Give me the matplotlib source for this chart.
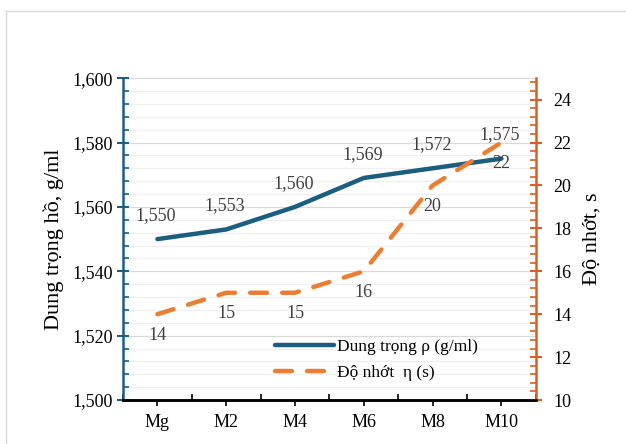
import numpy as np
import matplotlib.pyplot as plt
from matplotlib.ticker import MultipleLocator, FixedLocator

# data
categories = ["Mg", "M2", "M4", "M6", "M8", "M10"]
density = [1550, 1553, 1560, 1569, 1572, 1575]       # g/ml (x1000 shown with comma)
viscosity = [14, 15, 15, 16, 20, 22]                 # s

blue = "#1B5E80"
orange = "#ED7D31"
axis_orange = "#D9601F"

plt.rcParams['font.family'] = ['Liberation Serif', 'DejaVu Serif']

fig = plt.figure(figsize=(6.26, 4.44), dpi=100)
ax = fig.add_axes([0.1965, 0.099, 0.6595, 0.725])
ax2 = ax.twinx()

x = np.arange(len(categories))

# outer frame of the chart (left and top visible)
fig.add_artist(plt.Line2D([6/626, 6/626], [0, 1 - 11/444], transform=fig.transFigure, color="#D9D9D9", lw=1))
fig.add_artist(plt.Line2D([6/626, 1], [1 - 11/444, 1 - 11/444], transform=fig.transFigure, color="#D9D9D9", lw=1))

ln1, = ax.plot(x, density, color=blue, lw=3.2, solid_capstyle='round', zorder=3)
ln2, = ax2.plot(x, viscosity, color=orange, lw=3.2, dashes=(3.8, 3.4), dash_capstyle='round', zorder=3)

ax.set_xlim(-0.5, len(categories) - 0.5)
ax.set_ylim(1500, 1600)
ax2.set_ylim(10, 25)

# left axis ticks / grid
ax.yaxis.set_major_locator(MultipleLocator(20))
ax.yaxis.set_minor_locator(MultipleLocator(4))
ax.set_yticks(np.arange(1500, 1601, 20))
ax.set_yticklabels([f"{int(v):,}" for v in np.arange(1500, 1601, 20)])
ax.grid(which='major', axis='y', color="#D9D9D9", lw=0.9)
ax.grid(which='minor', axis='y', color="#EFEFEF", lw=0.9)
ax.set_axisbelow(True)

# right axis ticks
ax2.yaxis.set_major_locator(FixedLocator([10, 12, 14, 16, 18, 20, 22, 24]))
ax2.yaxis.set_minor_locator(MultipleLocator(0.4))

# x axis: labels at centres, ticks at boundaries
ax.set_xticks(x)
ax.set_xticklabels(categories)
ax.xaxis.set_minor_locator(FixedLocator(np.arange(-0.5, len(categories), 1.0)))
ax.tick_params(axis='x', which='major', direction='out', length=4, width=1.2, color='black', labelsize=13, pad=6)
ax.tick_params(axis='x', which='minor', direction='in', length=4, width=1.2, color='black')

ax.tick_params(axis='y', which='major', direction='inout', length=9, width=1.5, color=blue, labelsize=13, pad=3)
ax.tick_params(axis='y', which='minor', direction='in', length=4, width=1.2, color=blue)
ax2.tick_params(axis='y', which='major', direction='inout', length=9, width=1.5, color=axis_orange, labelsize=13, pad=8)
ax2.tick_params(axis='y', which='minor', direction='in', length=4, width=1.2, color=axis_orange)

for a in (ax, ax2):
    a.spines['top'].set_visible(False)
    a.spines['bottom'].set_color('black')
    a.spines['bottom'].set_linewidth(1.8)
ax.spines['left'].set_color(blue)
ax.spines['left'].set_linewidth(1.8)
ax.spines['right'].set_visible(False)
ax2.spines['left'].set_visible(False)
ax2.spines['right'].set_color(axis_orange)
ax2.spines['right'].set_linewidth(1.8)

ax.set_ylabel("Dung trọng hồ, g/ml", fontsize=16, labelpad=6)
ax2.set_ylabel("Độ nhớt, s", fontsize=16, labelpad=8)

# data labels
for xi, v in zip(x, density):
    ax.annotate(f"{v:,}", (xi, v), xytext=(-1, 11), textcoords='offset points',
                ha='center', va='bottom', fontsize=13, color="#404040")
for xi, v in zip(x, viscosity):
    ax2.annotate(f"{v}", (xi, v), xytext=(0, -9), textcoords='offset points',
                 ha='center', va='top', fontsize=13, color="#404040")

ax.legend([ln1, ln2], ["Dung trọng ρ (g/ml)", "Độ nhớt  η (s)"],
          loc='lower left', bbox_to_anchor=(0.33, 0.01), frameon=False,
          fontsize=12.5, handlelength=3.4, handletextpad=0.2, labelspacing=0.55)

fig.savefig("out.png", dpi=100)
